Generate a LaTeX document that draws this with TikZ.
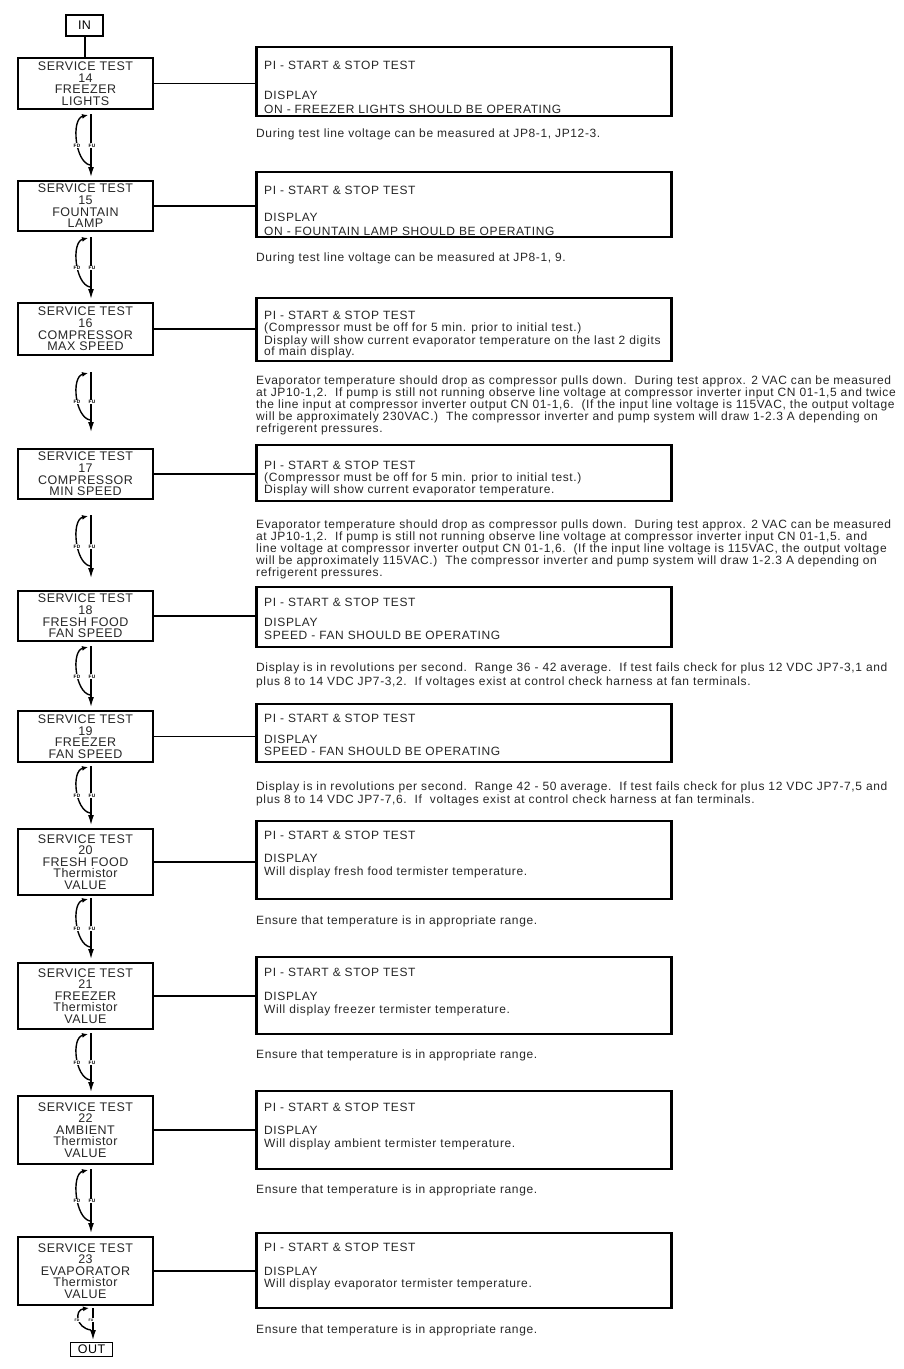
\documentclass[tikz,border=0pt]{standalone}
\usepackage{fontspec}
\setmainfont[LetterSpace=4]{Liberation Sans}
\newfontfamily\notefont[LetterSpace=5.2]{Liberation Sans}
\usetikzlibrary{arrows.meta,calc}
\tikzset{
  lbox/.style={draw, line width=2.2pt, minimum width=135pt, inner sep=0pt, align=center,
    font=\fontsize{12.5}{11.6}\selectfont, text=black!85},
  rbox/.style={draw, line width=2.2pt, minimum width=415pt, inner sep=0pt},
  ttag/.style={draw, line width=2pt, inner sep=0pt, font=\fontsize{12.5}{13}\selectfont},
  rtext/.style={anchor=base west, inner sep=0pt, font=\notefont\fontsize{12}{13}\selectfont, text=black!85},
  conn/.style={line width=1.8pt},
  flow/.style={line width=1.3pt, -{Latex[length=10pt,width=6pt]}},
  back/.style={line width=1.4pt, -{Latex[length=6pt,width=5pt]}},
  fdlab/.style={font=\fontsize{4.8}{5}\selectfont\bfseries, fill=white, inner sep=0.6pt}
}
\newcommand\fdfu[3]{%
  \coordinate (#1t) at (91,#2);
  \coordinate (#1b) at (91,#3);
  \draw[flow] (#1t) -- (#1b);
  \draw[back] ($(#1b)+(-1,-12)$) .. controls ($(#1b)+(-16,-15)$) and ($(#1t)+(-20,5)$) .. ($(#1t)+(-3,1)$);
  \node[fdlab] (#1fd) at ($(#1t)!0.5!(#1b)+(-14,0)$) {FD};
  \node[fdlab] (#1fu) at ($(#1t)!0.5!(#1b)+(1,0)$) {FU};
}
\newcommand\rl[3]{\node[rtext] (#1) at (264,#2) {#3};}
\newcommand\nl[3]{\node[rtext] (#1) at (256,#2) {#3};}
\begin{document}
\begin{tikzpicture}[x=1pt,y=-1pt]
\useasboundingbox (0,0) rectangle (903,1369);
% IN / OUT
\node[ttag, minimum width=37pt, minimum height=21pt] (in) at (84.5,25.5) {IN};
\node[ttag, line width=1.6pt, minimum width=42pt, minimum height=14pt] (out) at (91.5,1349.5) {OUT};
% left boxes
\node[lbox, minimum height=51pt] (b14) at (85.5,83.5) {SERVICE TEST\\14\\FREEZER\\LIGHTS};
\node[lbox, minimum height=50pt] (b15) at (85.5,206) {SERVICE TEST\\15\\FOUNTAIN\\LAMP};
\node[lbox, minimum height=52pt] (b16) at (85.5,329) {SERVICE TEST\\16\\COMPRESSOR\\MAX SPEED};
\node[lbox, minimum height=50pt] (b17) at (85.5,474) {SERVICE TEST\\17\\COMPRESSOR\\MIN SPEED};
\node[lbox, minimum height=50pt] (b18) at (85.5,616) {SERVICE TEST\\18\\FRESH FOOD\\FAN SPEED};
\node[lbox, minimum height=51pt] (b19) at (85.5,736.5) {SERVICE TEST\\19\\FREEZER\\FAN SPEED};
\node[lbox, minimum height=66pt] (b20) at (85.5,862) {SERVICE TEST\\20\\FRESH FOOD\\Thermistor\\VALUE};
\node[lbox, minimum height=66pt] (b21) at (85.5,996) {SERVICE TEST\\21\\FREEZER\\Thermistor\\VALUE};
\node[lbox, minimum height=68pt] (b22) at (85.5,1130) {SERVICE TEST\\22\\AMBIENT\\Thermistor\\VALUE};
\node[lbox, minimum height=68pt] (b23) at (85.5,1271) {SERVICE TEST\\23\\EVAPORATOR\\Thermistor\\VALUE};
% right boxes
\node[rbox, minimum height=69pt] (r14) at (464,81.5) {};
\node[rbox, minimum height=65pt] (r15) at (464,204.5) {};
\node[rbox, minimum height=63pt] (r16) at (464,329.5) {};
\node[rbox, minimum height=56pt] (r17) at (464,473) {};
\node[rbox, minimum height=60pt] (r18) at (464,617) {};
\node[rbox, minimum height=58pt] (r19) at (464,733) {};
\node[rbox, minimum height=78pt] (r20) at (464,860) {};
\node[rbox, minimum height=77pt] (r21) at (464,995.5) {};
\node[rbox, minimum height=78pt] (r22) at (464,1130) {};
\node[rbox, minimum height=75pt] (r23) at (464,1270.5) {};
% connectors
\draw[line width=2pt] (in) -- (in |- b14.north);
\foreach \i in {14,...,23} {\draw[conn] (b\i.east) -- (b\i.east -| r\i.west);}
% FD/FU symbols
\fdfu{g1}{114}{177}
\fdfu{g2}{237}{299}
\fdfu{g3}{372}{432}
\fdfu{g4}{515}{578}
\fdfu{g5}{646}{707}
\fdfu{g6}{766}{825}
\fdfu{g7}{898}{959}
\fdfu{g8}{1033}{1092}
\fdfu{g9}{1169}{1233}
\coordinate (g10t) at (93,1308);
\coordinate (g10b) at (93,1340);
\draw[flow] (g10t) -- (g10b);
\draw[back] ($(g10b)+(-2,-10)$) .. controls ($(g10b)+(-17,-12)$) and ($(g10t)+(-19,2)$) .. ($(g10t)+(-4,0)$);
\node[fdlab, font=\fontsize{3.5}{4}\selectfont\bfseries] (g10fd) at (77,1320) {FD};
\node[fdlab, font=\fontsize{3.5}{4}\selectfont\bfseries] (g10fu) at (91,1320) {FU};
% right box texts
\rl{t14a}{69}{PI - START \& STOP TEST}
\rl{t14b}{99}{DISPLAY}
\rl{t14c}{113}{ON - FREEZER LIGHTS SHOULD BE OPERATING}
\rl{t15a}{194}{PI - START \& STOP TEST}
\rl{t15b}{221}{DISPLAY}
\rl{t15c}{235}{ON - FOUNTAIN LAMP SHOULD BE OPERATING}
\rl{t16a}{319}{PI - START \& STOP TEST}
\rl{t16b}{331}{(Compressor must be off for 5 min. prior to initial test.)}
\rl{t16c}{344}{Display will show current evaporator temperature on the last 2 digits}
\rl{t16d}{355}{of main display.}
\rl{t17a}{469}{PI - START \& STOP TEST}
\rl{t17b}{481}{(Compressor must be off for 5 min. prior to initial test.)}
\rl{t17c}{493}{Display will show current evaporator temperature.}
\rl{t18a}{606}{PI - START \& STOP TEST}
\rl{t18b}{626}{DISPLAY}
\rl{t18c}{639}{SPEED - FAN SHOULD BE OPERATING}
\rl{t19a}{722}{PI - START \& STOP TEST}
\rl{t19b}{743}{DISPLAY}
\rl{t19c}{755}{SPEED - FAN SHOULD BE OPERATING}
\rl{t20a}{839}{PI - START \& STOP TEST}
\rl{t20b}{862}{DISPLAY}
\rl{t20c}{875}{Will display fresh food termister temperature.}
\rl{t21a}{976}{PI - START \& STOP TEST}
\rl{t21b}{1000}{DISPLAY}
\rl{t21c}{1013}{Will display freezer termister temperature.}
\rl{t22a}{1111}{PI - START \& STOP TEST}
\rl{t22b}{1134}{DISPLAY}
\rl{t22c}{1147}{Will display ambient termister temperature.}
\rl{t23a}{1251}{PI - START \& STOP TEST}
\rl{t23b}{1275}{DISPLAY}
\rl{t23c}{1287}{Will display evaporator termister temperature.}
% notes
\nl{n14}{137}{During test line voltage can be measured at JP8-1, JP12-3.}
\nl{n15}{261}{During test line voltage can be measured at JP8-1, 9.}
\nl{n16a}{384}{Evaporator temperature should drop as compressor pulls down.\ \ During test approx. 2 VAC can be measured}
\nl{n16b}{396}{at JP10-1,2.\ \ If pump is still not running observe line voltage at compressor inverter input CN 01-1,5 and twice}
\nl{n16c}{408}{the line input at compressor inverter output CN 01-1,6.\ \ (If the input line voltage is 115VAC, the output voltage}
\nl{n16d}{420}{will be approximately 230VAC.)\ \ The compressor inverter and pump system will draw 1-2.3 A depending on}
\nl{n16e}{432}{refrigerent pressures.}
\nl{n17a}{528}{Evaporator temperature should drop as compressor pulls down.\ \ During test approx. 2 VAC can be measured}
\nl{n17b}{540}{at JP10-1,2.\ \ If pump is still not running observe line voltage at compressor inverter input CN 01-1,5. and}
\nl{n17c}{552}{line voltage at compressor inverter output CN 01-1,6.\ \ (If the input line voltage is 115VAC, the output voltage}
\nl{n17d}{564}{will be approximately 115VAC.)\ \ The compressor inverter and pump system will draw 1-2.3 A depending on}
\nl{n17e}{576}{refrigerent pressures.}
\nl{n18a}{671}{Display is in revolutions per second.\ \ Range 36 - 42 average.\ \ If test fails check for plus 12 VDC JP7-3,1 and}
\nl{n18b}{685}{plus 8 to 14 VDC JP7-3,2.\ \ If voltages exist at control check harness at fan terminals.}
\nl{n19a}{790}{Display is in revolutions per second.\ \ Range 42 - 50 average.\ \ If test fails check for plus 12 VDC JP7-7,5 and}
\nl{n19b}{803}{plus 8 to 14 VDC JP7-7,6.\ \ If\ \ voltages exist at control check harness at fan terminals.}
\nl{n20}{924}{Ensure that temperature is in appropriate range.}
\nl{n21}{1058}{Ensure that temperature is in appropriate range.}
\nl{n22}{1193}{Ensure that temperature is in appropriate range.}
\nl{n23}{1333}{Ensure that temperature is in appropriate range.}
\end{tikzpicture}
\end{document}
